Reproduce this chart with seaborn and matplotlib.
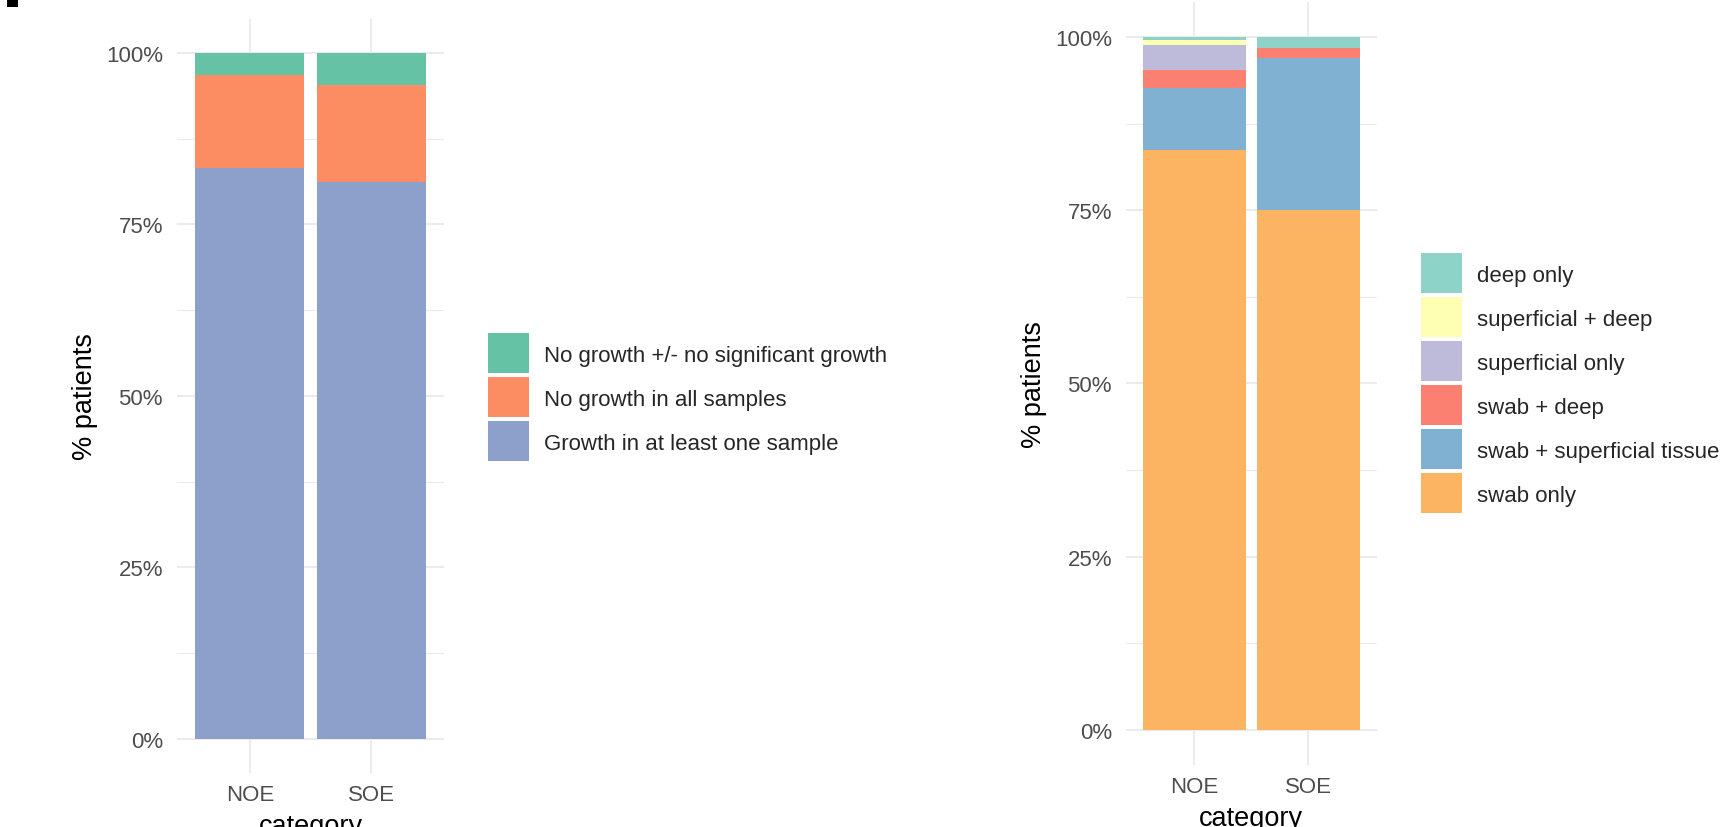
import numpy as np
import pandas as pd
import matplotlib
matplotlib.use("Agg")
import matplotlib.pyplot as plt
import seaborn as sns
from matplotlib.patches import Patch, Rectangle
from matplotlib.legend_handler import HandlerPatch
from matplotlib.ticker import PercentFormatter, MultipleLocator

# ---- data (percent of patients) ----
categories = ["NOE", "SOE"]

growth_levels = ["No growth +/- no significant growth",
                 "No growth in all samples",
                 "Growth in at least one sample"]
growth_noe = [3.2, 13.6, 83.2]
growth_soe = [4.6, 14.2, 81.2]

site_levels = ["deep only", "superficial + deep", "superficial only",
               "swab + deep", "swab + superficial tissue", "swab only"]
site_noe = [0.5, 0.6, 3.7, 2.6, 8.9, 83.7]
site_soe = [1.6, 0.0, 0.0, 1.5, 21.9, 75.0]

growth_colors = ["#66C2A5", "#FC8D62", "#8DA0CB"]
site_colors = ["#8DD3C7", "#FFFFB3", "#BEBADA", "#FB8072", "#80B1D3", "#FDB462"]

df1 = pd.DataFrame({
    "category": np.repeat(categories, len(growth_levels)),
    "group": growth_levels * 2,
    "pct": growth_noe + growth_soe,
})
df2 = pd.DataFrame({
    "category": np.repeat(categories, len(site_levels)),
    "group": site_levels * 2,
    "pct": site_noe + site_soe,
})

sns.set_theme(style="white")
plt.rcParams["font.family"] = ["Liberation Sans", "DejaVu Sans"]

fig = plt.figure(figsize=(17.33, 8.28), dpi=100)
ax1 = fig.add_axes([0.1021, 0.0652, 0.1541, 0.9110])
ax2 = fig.add_axes([0.6497, 0.0753, 0.1447, 0.9207])

# clipped panel tag in the top-left corner
fig.add_artist(Rectangle((7 / 1733, 1 - 8 / 828), 11 / 1733, 8 / 828,
                         transform=fig.transFigure, facecolor="black",
                         edgecolor="none"))

GRID = "#EBEBEB"
LEG_FS = 16
KEY_H = 28.8  # points (~40 px)


def key_patch(legend, orig_handle, xdescent, ydescent, width, height, fontsize):
    yc = 0.36 * fontsize
    return Rectangle((-xdescent, yc - KEY_H / 2), width, KEY_H)


def panel(ax, df, levels, colors, legend_xy):
    sns.histplot(data=df, x="category", hue="group", weights="pct",
                 hue_order=levels, palette=colors, multiple="stack",
                 discrete=True, shrink=0.9, alpha=1, linewidth=0,
                 legend=False, ax=ax)
    ax.set_xlim(-0.6, 1.6)
    ax.set_ylim(-5, 105)
    ax.yaxis.set_major_locator(MultipleLocator(25))
    ax.yaxis.set_minor_locator(MultipleLocator(12.5))
    ax.yaxis.set_major_formatter(PercentFormatter(decimals=0))
    ax.set_xticks([0, 1])
    ax.set_xticklabels(categories)
    ax.grid(axis="y", which="major", color=GRID, linewidth=1.5)
    ax.grid(axis="y", which="minor", color=GRID, linewidth=0.8)
    ax.grid(axis="x", which="major", color=GRID, linewidth=1.5)
    ax.set_axisbelow(True)
    for s in ax.spines.values():
        s.set_visible(False)
    ax.tick_params(axis="both", which="both", length=0, labelsize=16,
                   labelcolor="#4D4D4D")
    ax.tick_params(axis="y", pad=10)
    ax.tick_params(axis="x", pad=8)
    ax.set_ylabel("% patients", fontsize=19.5, color="black", labelpad=6)
    ax.set_xlabel("category", fontsize=19.5, color="black", labelpad=6)
    handles = [Patch(facecolor=c, edgecolor="none") for c in colors]
    fig.legend(handles, levels, loc="upper left", bbox_to_anchor=legend_xy,
               frameon=False, fontsize=LEG_FS,
               handler_map={Patch: HandlerPatch(patch_func=key_patch)},
               handlelength=1.85, handleheight=2.39,
               handletextpad=0.65, labelspacing=0.18, borderpad=0,
               borderaxespad=0)


panel(ax1, df1, growth_levels, growth_colors, (0.2816, 0.5955))
panel(ax2, df2, site_levels, site_colors, (0.8200, 0.6921))

fig.savefig("out.png", dpi=100, facecolor="white")
